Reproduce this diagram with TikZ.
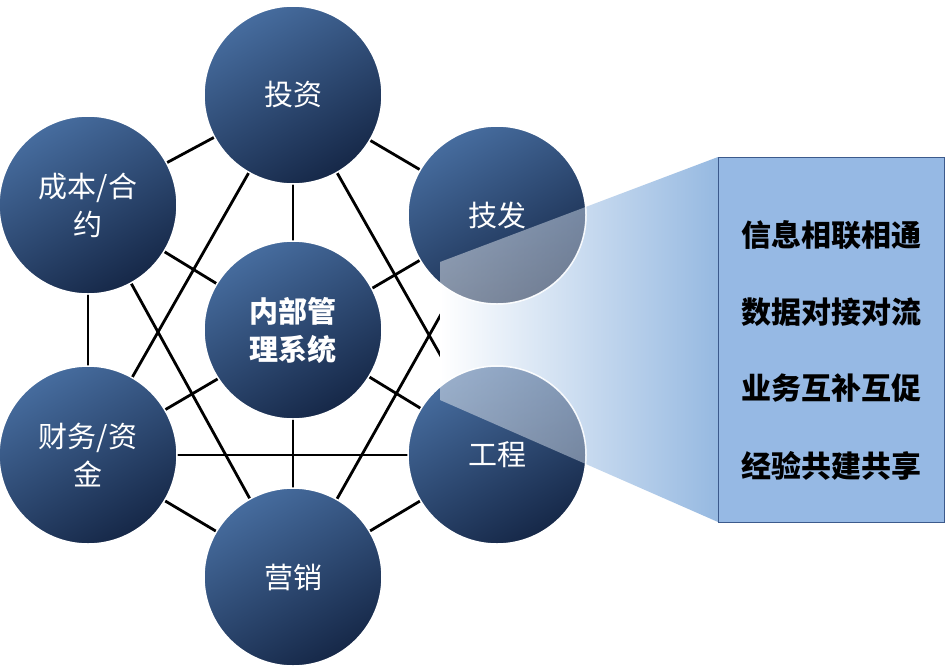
\documentclass[tikz,border=0pt]{standalone}
\usepackage{fontspec}
\newfontfamily\cjk{Noto Sans CJK SC}
\usetikzlibrary{shadings}
\begin{document}
\begin{tikzpicture}[x=1pt,y=-1pt,
  ball/.style={circle,minimum size=178pt,inner sep=0pt,draw=white,line width=1.5pt,
    shade,shading=axis,top color={rgb,255:red,70;green,108;blue,158},bottom color={rgb,255:red,22;green,40;blue,72},shading angle=30,
    text=white,font=\cjk\fontsize{29}{38}\selectfont,align=center,text width=150pt},
  link/.style={black,line width=2.8pt}]
\useasboundingbox (0,0) rectangle (950,670);
\fill[white] (0,0) rectangle (950,670);
\coordinate (p1) at (293,95);
\coordinate (p2) at (497,215);
\coordinate (p3) at (497,455);
\coordinate (p4) at (293,577);
\coordinate (p5) at (88,455);
\coordinate (p6) at (88,205);
\foreach \a/\b in {1/2,2/3,3/4,4/5,5/6,6/1,1/4,2/5,3/6,1/3,1/5,4/2,4/6,3/5}{\draw[link] (p\a) -- (p\b);}
\shade[left color=white,right color={rgb,255:red,150;green,185;blue,225}] (440,262) -- (718,157) -- (718,522) -- (440,400) -- cycle;
\node[ball] (a) at (p1) {投资};
\node[ball] (b) at (p2) {技发};
\node[ball] (c) at (p3) {工程};
\node[ball] (d) at (p4) {营销};
\node[ball] (e) at (p5) {财务/资\\金};
\node[ball] (f) at (p6) {成本/合\\约};
\node[ball,font=\cjk\bfseries\fontsize{29}{38}\selectfont] (m) at (293,330) {内部管\\理系统};
\begin{scope}
\clip (p2) circle (89pt) (p3) circle (89pt);
\shade[fill opacity=0.45,left color=white,right color={rgb,255:red,190;green,210;blue,235}] (440,262) -- (718,157) -- (718,522) -- (440,400) -- cycle;
\end{scope}
\node[draw={rgb,255:red,60;green,90;blue,140},line width=1.2pt,fill={rgb,255:red,150;green,185;blue,228},
  minimum width=226pt,minimum height=365pt,anchor=north west,inner sep=0pt] (box) at (718,157) {};
\foreach \t/\y in {信息相联相通/235,数据对接对流/312,业务互补互促/388,经验共建共享/466}
  \node[font=\cjk\bfseries\fontsize{30}{34}\selectfont] at (831,\y) {\t};
\end{tikzpicture}
\end{document}
